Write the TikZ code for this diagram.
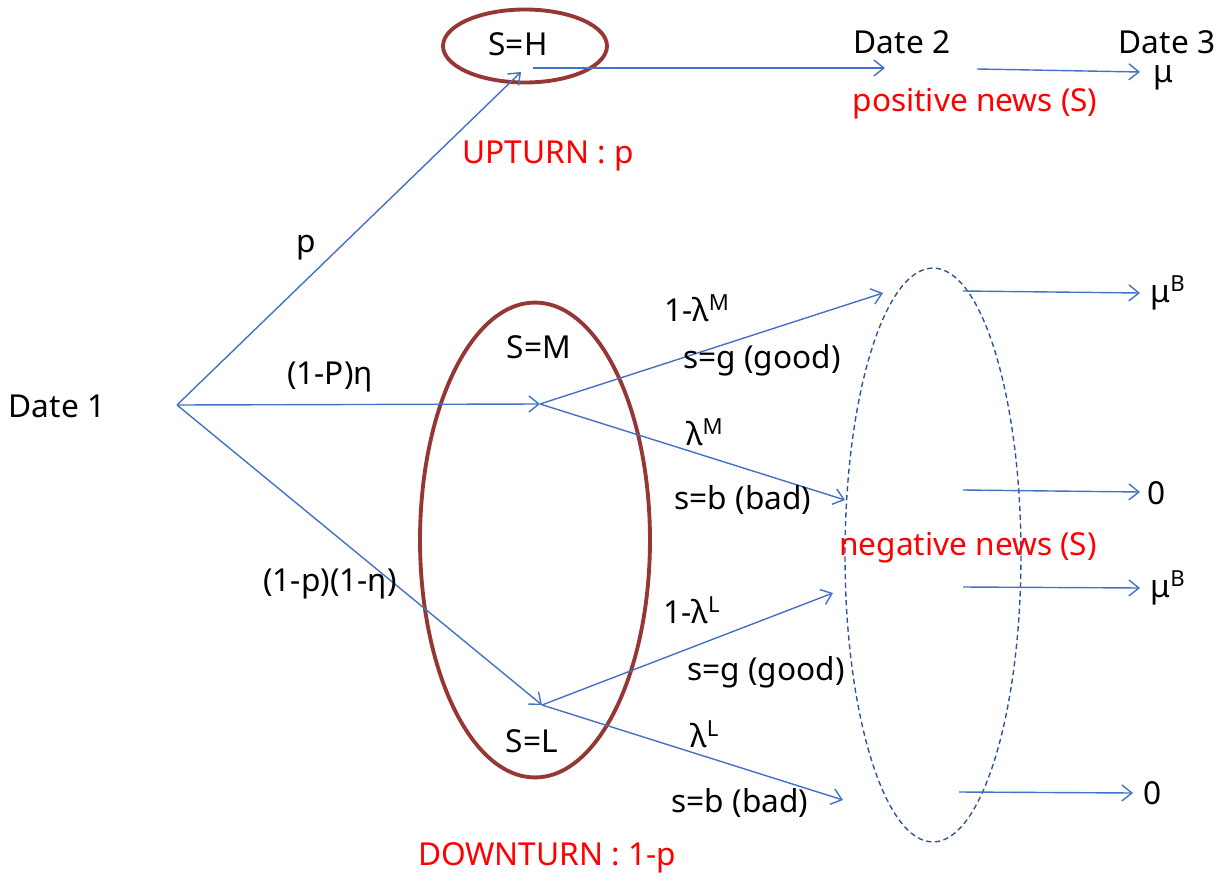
\documentclass[tikz,border=0pt]{standalone}
\usepackage{fontspec}
\setmainfont{Noto Sans}
\usetikzlibrary{arrows.meta,shapes.geometric}
\definecolor{linkblue}{RGB}{68,114,196}
\definecolor{ovalred}{RGB}{149,55,53}
\definecolor{newsblue}{RGB}{47,85,151}
\tikzset{
  flow/.style={linkblue, line width=0.8pt, -{Straight Barb[length=2mm,width=3.2mm]}},
  lbl/.style={font=\fontsize{18}{20}\selectfont, inner sep=0pt},
  redlbl/.style={lbl, text=red},
  stateoval/.style={ellipse, draw=ovalred, line width=2.2pt, inner sep=0pt},
  newsoval/.style={ellipse, draw=newsblue, densely dashed, line width=0.8pt, inner sep=0pt},
}
\begin{document}
\begin{tikzpicture}[x=0.02cm,y=-0.02cm]
        \useasboundingbox (0,0) rectangle (1231,882);

        % states and ovals
        \node[stateoval, minimum width=3.28cm, minimum height=1.46cm] (ovalH) at (525,46) {};
        \node[stateoval, minimum width=4.6cm, minimum height=9.5cm] (ovalD) at (535,540) {};
        \node[newsoval, minimum width=3.52cm, minimum height=11.48cm] (ovalN) at (933,555) {};

        \node[lbl] (date1) at (57,406) {Date 1};
        \node[lbl] (sH) at (518,44) {S=H};
        \node[lbl] (sM) at (539,347) {S=M};
        \node[lbl] (sL) at (532,741) {S=L};
        \node[lbl] (date2) at (902,42) {Date 2};
        \node[lbl] (date3) at (1167,42) {Date 3};
        \node[lbl] (muH) at (1163,78) {μ};
        \node[lbl] (muM) at (1168,293) {μ\textsuperscript{B}};
        \node[lbl] (zeroM) at (1157,493) {0};
        \node[lbl] (muL) at (1168,588) {μ\textsuperscript{B}};
        \node[lbl] (zeroL) at (1153,793) {0};

        \node[redlbl] (upturn) at (548,156) {UPTURN : p};
        \node[redlbl] (posnews) at (975,104) {positive news (S)};
        \node[redlbl] (negnews) at (968,548) {negative news (S)};
        \node[redlbl] (downturn) at (547,858) {DOWNTURN : 1-p};

        % arrow ends
        \coordinate (root) at (177,405);
        \coordinate (tipH) at (521,72);
        \coordinate (tipM) at (540,404);
        \coordinate (tipL) at (542,705);
        \coordinate (outH) at (533,68);
        \coordinate (inH) at (885,68);
        \coordinate (outH2) at (977,69);
        \coordinate (inH2) at (1140,72);
        \coordinate (gM) at (883,293);
        \coordinate (bM) at (845,500);
        \coordinate (gL) at (833,593);
        \coordinate (bL) at (843,800);
        \coordinate (n1) at (963,291);
        \coordinate (n2) at (963,490);
        \coordinate (n3) at (963,587);
        \coordinate (n4) at (959,792);
        \coordinate (e1) at (1140,293);
        \coordinate (e2) at (1140,492);
        \coordinate (e3) at (1140,588);
        \coordinate (e4) at (1133,793);

        % date 1 to date 2
        \draw[flow] (root) -- (tipH);
        \draw[flow] (root) -- (tipM);
        \draw[flow] (root) -- (tipL);
        \node[lbl] (pr1) at (306,248) {p};
        \node[lbl] (pr2) at (330,377) {(1-P)η};
        \node[lbl] (pr3) at (330,584) {(1-p)(1-η)};

        \draw[flow] (outH) -- (inH);
        \draw[flow] (outH2) -- (inH2);

        \draw[flow] (tipM) -- (gM);
        \draw[flow] (tipM) -- (bM);
        \draw[flow] (tipL) -- (gL);
        \draw[flow] (tipL) -- (bL);
        \node[lbl] (lamM1) at (697,308) {1-λ\textsuperscript{M}};
        \node[lbl] (goodM) at (762,360) {s=g (good)};
        \node[lbl] (lamM) at (705,432) {λ\textsuperscript{M}};
        \node[lbl] (badM) at (743,500) {s=b (bad)};
        \node[lbl] (lamL1) at (692,610) {1-λ\textsuperscript{L}};
        \node[lbl] (goodL) at (766,672) {s=g (good)};
        \node[lbl] (lamL) at (705,734) {λ\textsuperscript{L}};
        \node[lbl] (badL) at (740,803) {s=b (bad)};

        % date 2 to date 3
        \draw[flow] (n1) -- (e1);
        \draw[flow] (n2) -- (e2);
        \draw[flow] (n3) -- (e3);
        \draw[flow] (n4) -- (e4);
\end{tikzpicture}
\end{document}
